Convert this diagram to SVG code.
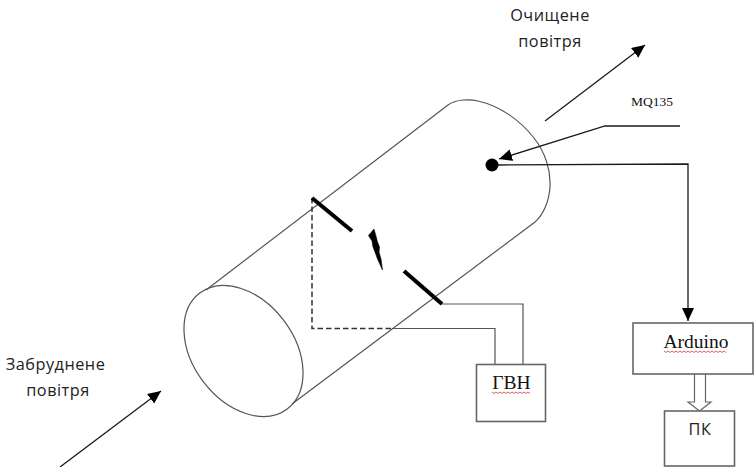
<svg xmlns="http://www.w3.org/2000/svg" width="754" height="467" viewBox="0 0 754 467">
<style>
.thin{fill:none;stroke:#555;stroke-width:1.2}
.blk{fill:none;stroke:#1a1a1a;stroke-width:1.3}
.box{fill:#fff;stroke:#666;stroke-width:1.6}
.el{fill:none;stroke:#000;stroke-width:4}
.sans{font-family:"Open Sans","Noto Sans",sans-serif;font-size:16.300px;fill:#222;letter-spacing:.5px;text-anchor:middle}
.serif{font-family:"Liberation Serif",serif;fill:#111;text-anchor:middle}
.wavy{fill:none;stroke:#e06060;stroke-width:1}
</style>
<defs>
<marker id="ah" markerUnits="userSpaceOnUse" markerWidth="16" markerHeight="14" refX="13" refY="6" orient="auto"><path d="M0 0L13 6L0 12Z" fill="#000"/></marker>
</defs>
<g id="cylinder">
<ellipse class="thin" cx="243.5" cy="351" rx="72.6" ry="50.6" transform="rotate(53 243.5 351)"/>
<path class="thin" d="M206 290L448 105C456 99 470 99 478 101C500 106 520 120 534 138C545 152 551 170 550 187C549 202 543 215 535 222L292 404"/>
</g>
<g id="connectors">
<path class="blk" d="M545 121L645 45" marker-end="url(#ah)"/>
<path class="blk" d="M60 467L161 391" marker-end="url(#ah)"/>
<path class="blk" d="M680 126H605L499 159" marker-end="url(#ah)"/>
<path class="blk" d="M498 165L688 164V321" marker-end="url(#ah)"/>
<path fill="none" stroke="#333" stroke-width="1.500" stroke-dasharray="5.500 3" d="M312 198V328.500H392"/>
<path class="thin" stroke-width="1.500" d="M392 328.500H495V364"/>
<path class="thin" stroke-width="1.500" d="M442 304H523V364"/>
<path d="M694.500 374V402H688L699.500 411L711 402H705.500V374" fill="#fff" stroke="#666" stroke-width="1.200"/>
</g>
<g id="electrodes">
<path class="el" d="M312 198L352 231"/>
<path class="el" d="M404 271L442 304"/>
<path d="M374 229L376 236L377.500 242L379.500 247L379 252L381 259L382.500 270L377.500 259L375 252L373 247L372 241L368.500 235.500Z" fill="#000" stroke="#000" stroke-width=".6"/>
</g>
<g id="sensor">
<circle cx="492" cy="165" r="6.500" fill="#000"/>
<text class="serif" x="652" y="106" font-size="13.500">MQ135</text>
</g>
<g id="gvn">
<rect class="box" x="476.500" y="364.500" width="69" height="57"/>
<text class="serif" x="511.500" y="389" font-size="19.500">ГВН</text>
<path class="wavy" d="M492 392l2 1.500 2-1.500 2 1.500 2-1.500 2 1.500 2-1.500 2 1.500 2-1.500 2 1.500 2-1.500 2 1.500 2-1.500 2 1.500 2-1.500 2 1.500 2-1.500 2 1.500 2-1.500 2 1.500"/>
</g>
<g id="arduino">
<rect class="box" x="633" y="323" width="120" height="51"/>
<text class="serif" x="696" y="348" font-size="19.500">Arduino</text>
<path class="wavy" d="M664 351l2 1.500 2-1.500 2 1.500 2-1.500 2 1.500 2-1.500 2 1.500 2-1.500 2 1.500 2-1.500 2 1.500 2-1.500 2 1.500 2-1.500 2 1.500 2-1.500 2 1.500 2-1.500 2 1.500 2-1.500 2 1.500 2-1.500 2 1.500 2-1.500 2 1.500 2-1.500 2 1.500 2-1.500 2 1.500 2-1.500 2 1.500"/>
</g>
<g id="pk">
<rect class="box" x="664.500" y="411" width="70" height="55"/>
<text class="sans" x="700" y="435">ПК</text>
</g>
<g id="labels">
<text class="sans" x="550" y="21">Очищене</text>
<text class="sans" x="550" y="47">повітря</text>
<text class="sans" x="55.500" y="370">Забруднене</text>
<text class="sans" x="58" y="396">повітря</text>
</g>
</svg>
